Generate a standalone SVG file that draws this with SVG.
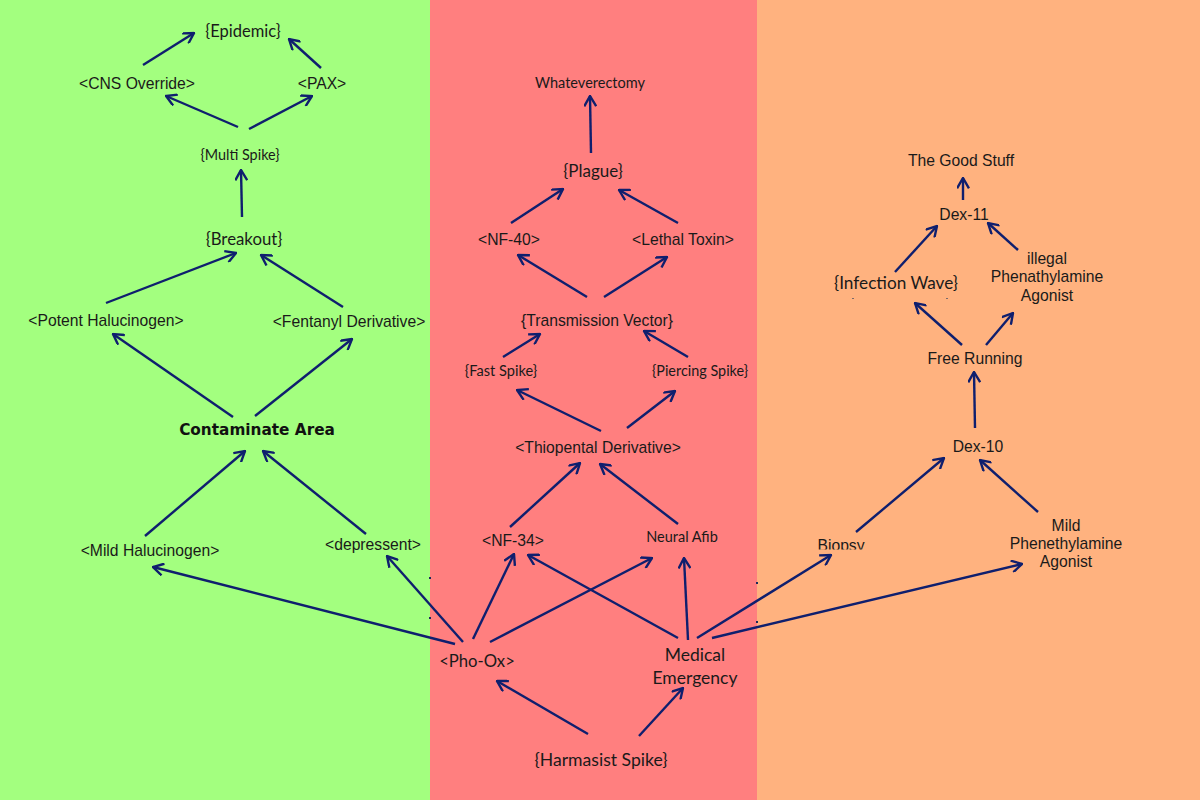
<svg xmlns="http://www.w3.org/2000/svg" width="1200" height="800" viewBox="0 0 1200 800">
  <defs>
    <style>
      .arial { font-family: "Liberation Sans", Arial, sans-serif; font-size: 15.7px; fill: #1a1a1a; text-anchor: middle; }
      .cal { font-family: Lato, "Open Sans", sans-serif; fill: #1a1a1a; text-anchor: middle; }
      .bold { font-family: "DejaVu Sans", sans-serif; font-weight: bold; font-size: 15.3px; fill: #111; text-anchor: middle; }
      .edge { stroke: #0f1f6e; stroke-width: 2.4; fill: none; marker-end: url(#arrow); }
      .speck { fill: #1a2a5a; }
    </style>
    <marker id="arrow" viewBox="0 0 12 12" refX="11" refY="6" markerWidth="13" markerHeight="13" markerUnits="userSpaceOnUse" orient="auto">
      <path d="M1.5,0.5 L11,6 L1.5,11.5" fill="none" stroke="#0f1f6e" stroke-width="2.2"/>
    </marker>
    <clipPath id="biopsyClip">
      <rect x="800" y="530" width="90" height="19.5"/>
    </clipPath>
  </defs>

  <!-- background bands -->
  <rect x="0" y="0" width="430" height="800" fill="#a3ff7f"/>
  <rect x="430" y="0" width="327" height="800" fill="#ff7f7f"/>
  <rect x="757" y="0" width="443" height="800" fill="#ffb27f"/>

  <!-- connectors -->
  <g id="connectors">
    <!-- left band -->
    <line class="edge" x1="143" y1="65" x2="194" y2="33"/>
    <line class="edge" x1="321" y1="68" x2="289" y2="39"/>
    <line class="edge" x1="238" y1="127" x2="166" y2="96"/>
    <line class="edge" x1="249" y1="129" x2="312" y2="96"/>
    <line class="edge" x1="242" y1="217" x2="241" y2="170"/>
    <line class="edge" x1="106" y1="303" x2="236" y2="253"/>
    <line class="edge" x1="343" y1="307" x2="261" y2="255"/>
    <line class="edge" x1="233" y1="417" x2="113" y2="334"/>
    <line class="edge" x1="255" y1="416" x2="352" y2="339"/>
    <line class="edge" x1="145" y1="536" x2="245" y2="451"/>
    <line class="edge" x1="366" y1="534" x2="263" y2="451"/>
    <!-- middle band -->
    <line class="edge" x1="591" y1="153" x2="590" y2="96"/>
    <line class="edge" x1="511" y1="223" x2="563" y2="189"/>
    <line class="edge" x1="678" y1="223" x2="619" y2="190"/>
    <line class="edge" x1="587" y1="297" x2="518" y2="255"/>
    <line class="edge" x1="604" y1="297" x2="667" y2="257"/>
    <line class="edge" x1="503" y1="357" x2="540" y2="334"/>
    <line class="edge" x1="688" y1="357" x2="644" y2="331"/>
    <line class="edge" x1="601" y1="431" x2="517" y2="390"/>
    <line class="edge" x1="627" y1="428" x2="675" y2="391"/>
    <line class="edge" x1="510" y1="527" x2="580" y2="463"/>
    <line class="edge" x1="678" y1="524" x2="600" y2="464"/>
    <!-- from Pho-Ox -->
    <line class="edge" x1="455" y1="644" x2="153" y2="567"/>
    <line class="edge" x1="463" y1="642" x2="387" y2="556"/>
    <line class="edge" x1="473" y1="639" x2="514" y2="554"/>
    <line class="edge" x1="490" y1="642" x2="652" y2="558"/>
    <!-- from Medical Emergency -->
    <line class="edge" x1="678" y1="638" x2="528" y2="555"/>
    <line class="edge" x1="688" y1="640" x2="684" y2="558"/>
    <line class="edge" x1="697" y1="638" x2="831" y2="555"/>
    <line class="edge" x1="712" y1="638" x2="1022" y2="564"/>
    <!-- from Harmasist Spike -->
    <line class="edge" x1="588" y1="734" x2="497" y2="681"/>
    <line class="edge" x1="639" y1="736" x2="683" y2="688"/>
    <!-- right band -->
    <line class="edge" x1="856" y1="532" x2="944" y2="458"/>
    <line class="edge" x1="1038" y1="512" x2="980" y2="460"/>
    <line class="edge" x1="975" y1="428" x2="974" y2="372"/>
    <line class="edge" x1="962" y1="345" x2="915" y2="303"/>
    <line class="edge" x1="986" y1="345" x2="1013" y2="313"/>
    <line class="edge" x1="895" y1="272" x2="937" y2="226"/>
    <line class="edge" x1="1018" y1="250" x2="988" y2="223"/>
    <line class="edge" x1="963" y1="200" x2="963" y2="178"/>
  </g>

  <!-- left band nodes -->
  <g id="epidemic"><text class="cal" x="243" y="37" font-size="16.5">{Epidemic}</text></g>
  <g id="cns-override"><text class="arial" x="137" y="89">&lt;CNS Override&gt;</text></g>
  <g id="pax"><text class="arial" x="322" y="89">&lt;PAX&gt;</text></g>
  <g id="multi-spike"><text class="cal" x="240" y="160" font-size="14.4">{Multi Spike}</text></g>
  <g id="breakout"><text class="cal" x="244" y="245" font-size="16.8">{Breakout}</text></g>
  <g id="potent-halucinogen"><text class="arial" x="106" y="326">&lt;Potent Halucinogen&gt;</text></g>
  <g id="fentanyl-derivative"><text class="arial" x="349" y="327">&lt;Fentanyl Derivative&gt;</text></g>
  <g id="contaminate-area"><text class="bold" x="257" y="435">Contaminate Area</text></g>
  <g id="mild-halucinogen"><text class="arial" x="150" y="556">&lt;Mild Halucinogen&gt;</text></g>
  <g id="depressent"><text class="arial" x="373" y="550">&lt;depressent&gt;</text></g>

  <!-- middle band nodes -->
  <g id="whateverectomy"><text class="cal" x="590" y="88" font-size="14.5">Whateverectomy</text></g>
  <g id="plague"><text class="cal" x="593" y="177" font-size="17">{Plague}</text></g>
  <g id="nf-40"><text class="arial" x="509" y="245">&lt;NF-40&gt;</text></g>
  <g id="lethal-toxin"><text class="arial" x="683" y="245">&lt;Lethal Toxin&gt;</text></g>
  <g id="transmission-vector"><text class="arial" x="597" y="326">{Transmission Vector}</text></g>
  <g id="fast-spike"><text class="cal" x="501" y="376" font-size="14.6">{Fast Spike}</text></g>
  <g id="piercing-spike"><text class="cal" x="700" y="376" font-size="14.4">{Piercing Spike}</text></g>
  <g id="thiopental-derivative"><text class="arial" x="598" y="453">&lt;Thiopental Derivative&gt;</text></g>
  <g id="nf-34"><text class="arial" x="513" y="546">&lt;NF-34&gt;</text></g>
  <g id="neural-afib"><text class="cal" x="682" y="542" font-size="14.5">Neural Afib</text></g>
  <g id="pho-ox"><text class="cal" x="477" y="667" font-size="16.7">&lt;Pho-Ox&gt;</text></g>
  <g id="medical-emergency">
    <text class="cal" x="695" y="661" font-size="17.5">Medical</text>
    <text class="cal" x="695" y="684" font-size="17.5">Emergency</text>
  </g>
  <g id="harmasist-spike"><text class="cal" x="601" y="766" font-size="17.6">{Harmasist Spike}</text></g>

  <!-- right band nodes -->
  <g id="good-stuff"><text class="arial" x="961" y="166">The Good Stuff</text></g>
  <g id="dex-11"><text class="arial" x="964" y="220">Dex-11</text></g>
  <g id="infection-wave">
    <text class="cal" x="896" y="289" font-size="17.2">{Infection Wave}</text>
    <rect x="852" y="298" width="2" height="1" fill="#7a6a6a"/>
    <rect x="946" y="298" width="2" height="1" fill="#7a6a6a"/>
  </g>
  <g id="illegal-phenathylamine">
    <text class="arial" x="1047" y="264">illegal</text>
    <text class="arial" x="1047" y="282">Phenathylamine</text>
    <text class="arial" x="1047" y="301">Agonist</text>
  </g>
  <g id="free-running"><text class="arial" x="975" y="364">Free Running</text></g>
  <g id="dex-10"><text class="arial" x="978" y="452">Dex-10</text></g>
  <g id="biopsy" clip-path="url(#biopsyClip)"><text class="arial" x="841" y="551">Biopsy</text></g>
  <g id="mild-phenethylamine">
    <text class="arial" x="1066" y="531">Mild</text>
    <text class="arial" x="1066" y="549">Phenethylamine</text>
    <text class="arial" x="1066" y="567">Agonist</text>
  </g>

  <!-- small specks along band edges -->
  <rect class="speck" x="429" y="577" width="2" height="2"/>
  <rect class="speck" x="429" y="617" width="2" height="2"/>
  <rect class="speck" x="756" y="582" width="2" height="2"/>
  <rect class="speck" x="756" y="621" width="2" height="2"/>
</svg>
